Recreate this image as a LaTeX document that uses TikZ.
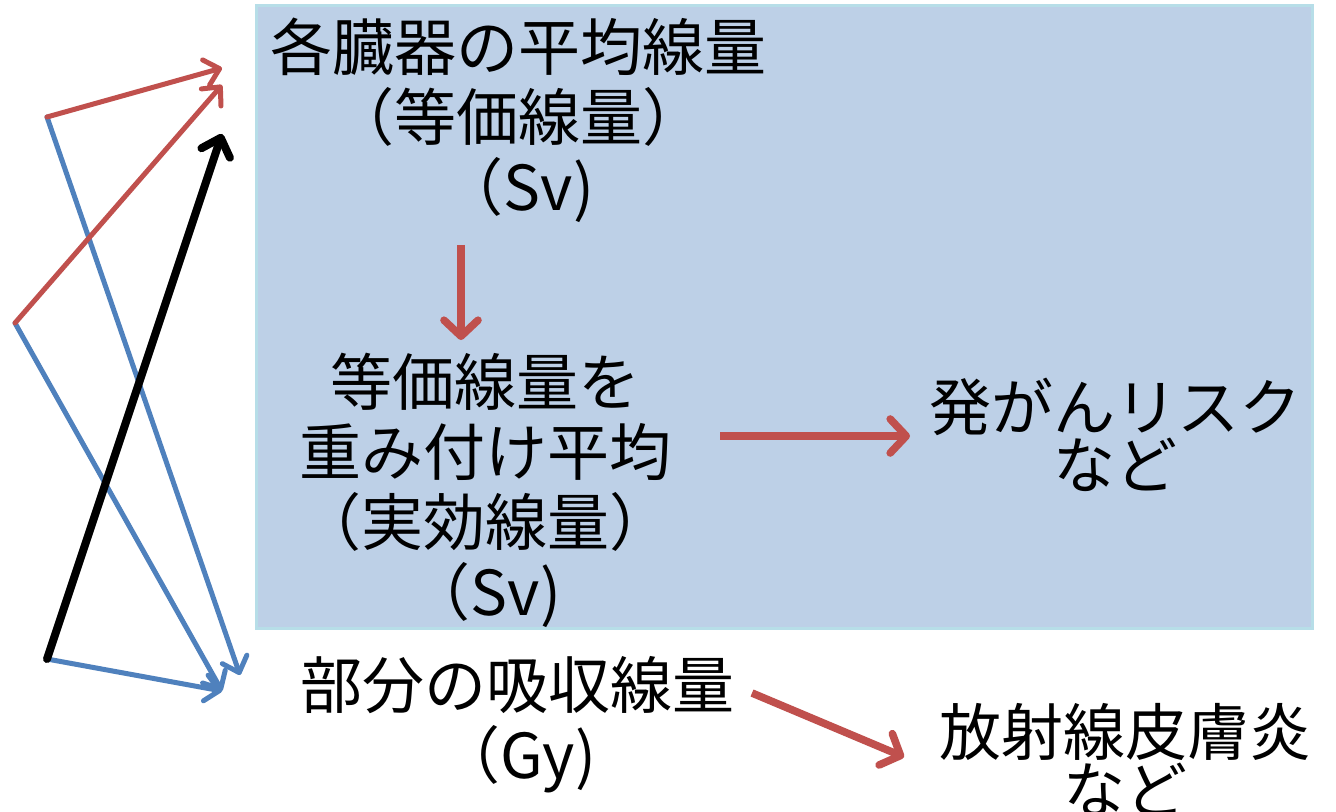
\documentclass[tikz,border=0pt]{standalone}
\usepackage{fontspec}
\setmainfont{Noto Sans CJK JP}
\usetikzlibrary{arrows.meta}
\definecolor{myred}{HTML}{C0504D}
\definecolor{myblue}{HTML}{4F81BD}
\definecolor{boxfill}{HTML}{BDD0E7}
\definecolor{boxline}{HTML}{B7DEE8}
\tikzset{
  txt/.style={inner sep=0pt, align=center, font=\fontsize{31}{35}\selectfont},
  txtb/.style={inner sep=0pt, align=center, font=\fontsize{31}{29}\selectfont},
  txtc/.style={inner sep=0pt, align=center, font=\fontsize{31}{27}\selectfont},
  thinred/.style={draw=myred, line width=2.5pt, line cap=round, -{Straight Barb[length=7pt,width=13pt,round]}},
  thinblue/.style={draw=myblue, line width=2.5pt, line cap=round, -{Straight Barb[length=7pt,width=13pt,round]}},
  thickblack/.style={draw=black, line width=4pt, line cap=round, -{Straight Barb[length=8pt,width=15pt,round]}},
  bigred/.style={draw=myred, line width=3.8pt, -{Straight Barb[length=8pt,width=17pt,round]}},
}
\begin{document}
\begin{tikzpicture}[x=0.5pt,y=-0.5pt]
\useasboundingbox (0,0) rectangle (1336,812);
\fill[white] (0,0) rectangle (1336,812);
% box
\draw[fill=boxfill, draw=boxline, line width=1.5pt] (256,6) rectangle (1312,628);
% texts
\node[txt] (top) at (518,120) {各臓器の平均線量\\（等価線量）\\（Sv)};
\node[txt] (mid) at (485,490) {等価線量を\\重み付け平均\\（実効線量）\\（Sv)};
\node[txtb] (risk) at (1115,435) {発がんリスク\\など};
\node[txt] (abs) at (517,725) {部分の吸収線量\\（Gy)};
\node[txtc] (derm) at (1125,760) {放射線皮膚炎\\など};
% in-box arrows
\coordinate (d1) at (461,245);
\coordinate (d2) at (461,340);
\coordinate (r1) at (720,436);
\coordinate (r2) at (910,436);
\coordinate (s1) at (752,693);
\coordinate (s2) at (904,757);
\draw[bigred] (d1) -- (d2);
\draw[bigred] (r1) -- (r2);
\draw[bigred] (s1) -- (s2);
% left sketch
\coordinate (a) at (47,117);
\coordinate (b) at (15,323);
\coordinate (c) at (47,659);
\coordinate (t1) at (222,68);
\coordinate (t2) at (222,85);
\coordinate (t3) at (222,134);
\coordinate (t4) at (240,675);
\coordinate (t5) at (222,691);
\draw[thinblue] (a) -- (t4);
\draw[thinblue] (b) -- (t5);
\draw[thinblue] (c) -- (t5);
\draw[thickblack] (c) -- (t3);
\draw[thinred] (a) -- (t1);
\draw[thinred] (b) -- (t2);
\end{tikzpicture}
\end{document}
